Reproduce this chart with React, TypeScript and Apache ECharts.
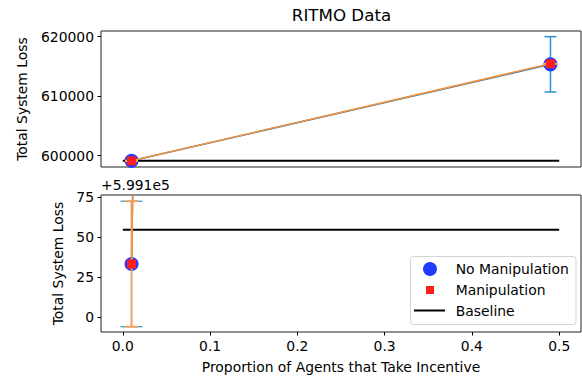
import React, { useEffect, useRef } from "react";
import * as echarts from "echarts";

// ---- data ----
const xs = [0.01, 0.49];
const noManipMean = [599133.3, 615350];
const noManipErr = [39.2, 4650];
const manipMean = [599133.3, 615450];
const manipErr = [39.2, 0];
const baselineX = [0, 0.5];
const baselineY = 599154.7;
const xTicks = [0, 0.1, 0.2, 0.3, 0.4, 0.5];
const topTicks = [600000, 610000, 620000];
const bottomOffset = 599100;
const bottomTicks = [0, 25, 50, 75];

const FONT = "DejaVu Sans";
const FS = 13.9;

function errData(mean: number[], err: number[]) {
  return xs.map((x, i) => [x, mean[i] - err[i], mean[i] + err[i]]);
}

function errSeries(
  g: number,
  mean: number[],
  err: number[],
  color: string,
  cw: number,
  z: number,
  width: number
) {
  return {
    type: "custom",
    xAxisIndex: g,
    yAxisIndex: g,
    clip: true,
    z,
    data: errData(mean, err),
    renderItem: (params: any, api: any) => {
      const x = api.value(0);
      const lo = api.coord([x, api.value(1)]);
      const hi = api.coord([x, api.value(2)]);
      const style = { stroke: color, lineWidth: width, fill: "none" };
      return {
        type: "group",
        children: [
          { type: "line", shape: { x1: lo[0], y1: lo[1], x2: hi[0], y2: hi[1] }, style },
          { type: "line", shape: { x1: lo[0] - cw, y1: lo[1], x2: lo[0] + cw, y2: lo[1] }, style },
          { type: "line", shape: { x1: hi[0] - cw, y1: hi[1], x2: hi[0] + cw, y2: hi[1] }, style },
        ],
      };
    },
  };
}

function seriesFor(g: number) {
  return [
    errSeries(g, noManipMean, noManipErr, "#2a93cf", g === 0 ? 6 : 11, 1, g === 0 ? 1.5 : 1.2),
    {
      type: "line",
      xAxisIndex: g,
      yAxisIndex: g,
      name: "No Manipulation",
      z: 2,
      data: xs.map((x, i) => [x, noManipMean[i]]),
      symbol: "circle",
      symbolSize: 14,
      showSymbol: true,
      lineStyle: { color: "#1f77b4", width: 1.5 },
      itemStyle: { color: "#1f3cff" },
    },
    {
      type: "line",
      xAxisIndex: g,
      yAxisIndex: g,
      name: "Baseline",
      z: 3,
      data: baselineX.map((x) => [x, baselineY]),
      symbol: "none",
      lineStyle: { color: "#000", width: 2 },
    },
    errSeries(g, manipMean, manipErr, "#f8a05c", 6.5, 4, 1.9),
    {
      type: "line",
      xAxisIndex: g,
      yAxisIndex: g,
      name: "Manipulation",
      z: 5,
      data: xs.map((x, i) => [x, manipMean[i]]),
      symbol: "rect",
      symbolSize: 9,
      showSymbol: true,
      lineStyle: { color: "#f5913a", width: 1.5 },
      itemStyle: { color: "#ff1e1e" },
    },
  ];
}

const labelStyle = { fontFamily: FONT, fontSize: FS, color: "#000" };

export default function App() {
  const ref = useRef<HTMLDivElement>(null);
  useEffect(() => {
    if (!ref.current) return;
    const chart = echarts.init(ref.current, undefined, { renderer: "svg" });
    const gridBase = {
      show: true,
      borderColor: "#222",
      borderWidth: 1,
      backgroundColor: "transparent",
      left: 101,
      width: 480,
      outerBoundsMode: "none",
    };
    const option: any = {
      animation: false,
      grid: [
        { ...gridBase, top: 31, height: 136 },
        { ...gridBase, top: 195, height: 137 },
      ],
      xAxis: [
        {
          gridIndex: 0,
          type: "value",
          min: -0.025,
          max: 0.525,
          axisLine: { show: false, onZero: false },
          axisTick: { show: false },
          axisLabel: { show: false },
          splitLine: { show: false },
        },
        {
          gridIndex: 1,
          type: "value",
          min: -0.025,
          max: 0.525,
          axisLine: { show: false, onZero: false },
          axisTick: { show: true, length: 3.5, customValues: xTicks, lineStyle: { color: "#000" } },
          axisLabel: {
            ...labelStyle,
            customValues: xTicks,
            margin: 7,
            formatter: (v: number) => v.toFixed(1),
          },
          splitLine: { show: false },
          name: "Proportion of Agents that Take Incentive",
          nameLocation: "middle",
          nameGap: 28,
          nameTextStyle: labelStyle,
        },
      ],
      yAxis: [
        {
          gridIndex: 0,
          type: "value",
          min: 598100,
          max: 620950,
          axisLine: { show: false, onZero: false },
          axisTick: { show: true, length: 3.5, customValues: topTicks, lineStyle: { color: "#000" } },
          axisLabel: { ...labelStyle, customValues: topTicks, margin: 7, formatter: (v: number) => String(v) },
          splitLine: { show: false },
          name: "Total System Loss",
          nameLocation: "middle",
          nameRotate: 90,
          nameGap: 72,
          nameTextStyle: labelStyle,
        },
        {
          gridIndex: 1,
          type: "value",
          min: bottomOffset - 9.2,
          max: bottomOffset + 76.4,
          axisLine: { show: false, onZero: false },
          axisTick: {
            show: true,
            length: 3.5,
            customValues: bottomTicks.map((t) => t + bottomOffset),
            lineStyle: { color: "#000" },
          },
          axisLabel: {
            ...labelStyle,
            customValues: bottomTicks.map((t) => t + bottomOffset),
            margin: 7,
            formatter: (v: number) => String(Math.round(v - bottomOffset)),
          },
          splitLine: { show: false },
          name: "Total System Loss",
          nameLocation: "middle",
          nameRotate: 90,
          nameGap: 35,
          nameTextStyle: labelStyle,
        },
      ],
      series: [...seriesFor(0), ...seriesFor(1)],
      graphic: [
        {
          type: "text",
          x: 341.5,
          y: 15,
          style: {
            text: "RITMO Data",
            fontFamily: FONT,
            fontSize: 16.7,
            fill: "#000",
            textAlign: "center",
            textVerticalAlign: "middle",
          },
        },
        {
          type: "text",
          x: 101,
          y: 185,
          style: {
            text: "+5.991e5",
            fontFamily: FONT,
            fontSize: FS,
            fill: "#000",
            textAlign: "left",
            textVerticalAlign: "middle",
          },
        },
        {
          type: "group",
          z: 100,
          children: [
            {
              type: "rect",
              shape: { x: 410.5, y: 256.5, width: 165.5, height: 68, r: 3 },
              style: { fill: "rgba(255,255,255,0.8)", stroke: "#d4d4d4", lineWidth: 1 },
            },
            { type: "circle", shape: { cx: 430, cy: 269, r: 7 }, style: { fill: "#1f3cff" } },
            { type: "rect", shape: { x: 426, y: 286, width: 8, height: 8 }, style: { fill: "#ff1e1e" } },
            {
              type: "line",
              shape: { x1: 414, y1: 310.5, x2: 445, y2: 310.5 },
              style: { stroke: "#000", lineWidth: 2 },
            },
            ...["No Manipulation", "Manipulation", "Baseline"].map((t, i) => ({
              type: "text",
              x: 455.7,
              y: 269 + i * 21,
              style: {
                text: t,
                fontFamily: FONT,
                fontSize: FS,
                fill: "#000",
                textAlign: "left",
                textVerticalAlign: "middle",
              },
            })),
          ],
        },
      ],
    };
    chart.setOption(option);
    return () => chart.dispose();
  }, []);
  return (
    <div
      ref={ref}
      style={{ position: "fixed", left: 0, top: 0, width: 582, height: 377, background: "#fff" }}
    />
  );
}
